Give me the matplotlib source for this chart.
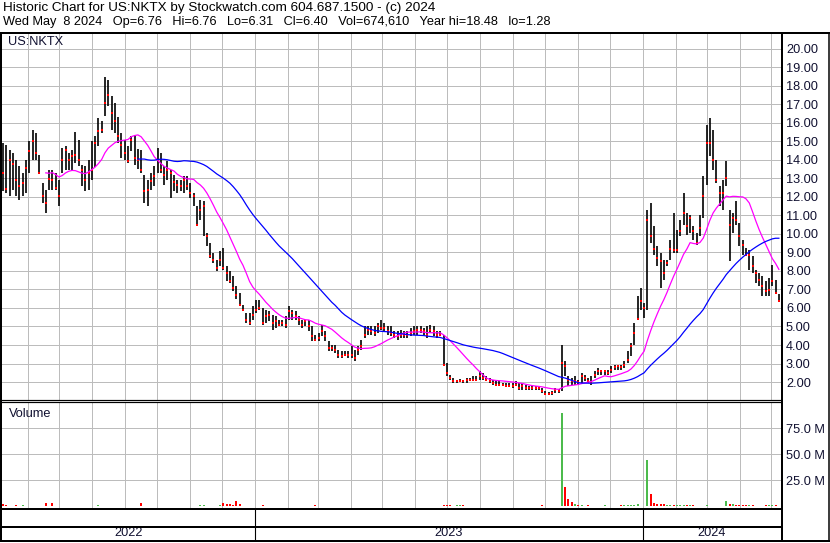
import numpy as np
import pandas as pd
import matplotlib
matplotlib.use("Agg")
import matplotlib.pyplot as plt
from matplotlib.lines import Line2D
from matplotlib.ticker import FuncFormatter, FixedLocator

plt.rcParams['font.family'] = ['Liberation Sans', 'DejaVu Sans']

# ---------------- data ----------------
title_line1 = "Historic Chart for US:NKTX by Stockwatch.com 604.687.1500 - (c) 2024"
title_line2 = "Wed May  8 2024   Op=6.76   Hi=6.76   Lo=6.31   Cl=6.40   Vol=674,610   Year hi=18.48   lo=1.28"
symbol = "US:NKTX"
start_date = "2022-05-09"
end_date = "2024-05-08"

high = [14.91, 14.82, 14.55, 14.37, 14.01, 13.65, 13.29, 14.01, 15.00, 15.63,
        15.45, 14.28, 12.75, 12.39, 13.47, 13.47, 13.29, 12.93, 14.64, 14.73,
        14.37, 14.55, 15.50, 15.09, 13.74, 13.65, 14.01, 15.00, 15.30, 16.26,
        16.08, 18.48, 18.33, 17.43, 17.07, 16.30, 15.45, 15.09, 14.73, 15.27,
        15.36, 14.60, 14.55, 13.20, 12.93, 13.29, 13.65, 14.64, 14.37, 13.65,
        13.92, 13.47, 13.20, 12.93, 12.93, 13.11, 13.11, 12.75, 12.21, 11.49,
        11.85, 11.76, 10.05, 9.51, 8.97, 8.61, 9.06, 9.24, 8.25, 7.98,
        7.71, 7.20, 6.81, 6.18, 5.73, 5.73, 6.09, 6.45, 6.45, 6.00,
        5.91, 5.82, 5.64, 5.55, 5.37, 5.37, 5.55, 6.09, 5.91, 5.82,
        5.55, 5.37, 5.37, 5.37, 5.01, 4.56, 4.65, 5.10, 4.74, 4.20,
        4.02, 4.02, 3.75, 3.66, 3.66, 3.66, 3.93, 3.75, 3.93, 4.29,
        5.01, 5.01, 5.01, 5.01, 5.19, 5.37, 5.19, 5.01, 5.01,
        4.74, 4.74, 4.83, 4.74, 4.74, 4.92, 5.01, 5.01, 5.01, 4.92,
        5.01, 5.10, 5.01, 4.74, 4.74, 4.56, 3.03, 2.40, 2.22, 2.13,
        2.17, 2.13, 2.22, 2.22, 2.31, 2.31, 2.58, 2.49, 2.31, 2.22,
        2.13, 2.04, 2.04, 1.95, 1.95, 1.95, 1.95, 2.04, 1.95, 1.95,
        1.86, 1.77, 1.77, 1.77, 1.81, 1.68, 1.50, 1.45, 1.50, 1.68,
        1.63, 4.02, 3.12, 2.31, 2.22, 2.31, 2.13, 2.49, 2.40, 2.22,
        2.31, 2.58, 2.76, 2.67, 2.67, 2.67, 2.85, 2.94, 2.94, 2.94,
        3.12, 3.66, 4.11, 5.19, 6.63, 7.08, 6.27, 11.31, 11.67, 10.41,
        9.33, 8.97, 8.61, 8.61, 9.69, 11.13, 10.23, 10.77, 12.21, 11.13,
        11.04, 10.41, 10.05, 11.04, 13.11, 15.90, 16.26, 15.63, 14.01, 12.57,
        12.93, 13.92, 11.31, 11.13, 11.76, 10.59, 9.69, 9.24, 9.15, 8.79,
        8.07, 7.89, 7.71, 7.44, 7.62, 8.34, 7.53, 6.76]

low = [12.30, 12.21, 12.03, 12.39, 12.03, 11.85, 12.03, 12.21, 13.29, 14.01,
       14.01, 13.29, 11.67, 11.13, 12.39, 12.39, 12.39, 11.49, 13.29, 13.47,
       13.47, 13.47, 13.83, 13.65, 12.57, 12.30, 12.39, 12.93, 13.60, 14.73,
       15.45, 16.35, 16.89, 15.63, 15.45, 14.90, 14.10, 14.01, 13.83, 14.46,
       13.74, 13.50, 13.29, 11.67, 11.49, 12.39, 12.57, 13.29, 13.29, 12.66,
       12.93, 11.94, 12.30, 12.21, 12.30, 12.21, 12.39, 11.94, 11.49, 10.41,
       10.77, 9.87, 9.33, 8.70, 8.43, 7.98, 8.25, 8.07, 7.44, 7.35,
       6.90, 6.50, 6.09, 5.82, 5.19, 5.10, 5.37, 5.73, 5.91, 5.10,
       5.19, 5.28, 4.83, 4.92, 5.01, 5.01, 4.92, 5.37, 5.37, 5.37,
       5.10, 4.92, 5.01, 4.74, 4.20, 4.20, 4.20, 4.47, 4.20, 3.66,
       3.66, 3.57, 3.30, 3.30, 3.39, 3.30, 3.30, 3.12, 3.48, 3.75,
       4.38, 4.56, 4.56, 4.47, 4.65, 4.83, 4.74, 4.56, 4.47,
       4.38, 4.29, 4.38, 4.38, 4.38, 4.47, 4.56, 4.56, 4.65, 4.56,
       4.38, 4.65, 4.47, 4.38, 4.47, 2.85, 2.31, 2.13, 1.95, 1.95,
       1.99, 1.95, 1.95, 2.04, 2.04, 2.04, 2.13, 2.13, 2.04, 1.95,
       1.86, 1.77, 1.77, 1.77, 1.73, 1.73, 1.68, 1.77, 1.59, 1.59,
       1.59, 1.59, 1.59, 1.59, 1.59, 1.41, 1.28, 1.28, 1.32, 1.41,
       1.41, 1.50, 2.31, 1.77, 1.86, 1.86, 1.86, 1.95, 2.04, 1.95,
       1.86, 2.22, 2.40, 2.40, 2.40, 2.40, 2.49, 2.67, 2.67, 2.67,
       2.76, 3.03, 3.39, 4.02, 5.37, 5.91, 5.46, 5.91, 9.51, 8.88,
       8.25, 7.08, 7.53, 8.25, 8.61, 8.97, 8.97, 9.87, 10.50, 9.96,
       10.05, 9.69, 9.42, 9.87, 10.86, 12.66, 14.19, 13.47, 12.75, 11.49,
       11.31, 12.57, 8.52, 10.05, 10.50, 9.33, 8.88, 8.79, 8.07, 7.89,
       7.35, 7.17, 6.63, 6.63, 6.63, 7.17, 6.81, 6.31]

close = [13.29, 12.44, 14.01, 13.78, 12.93, 12.57, 12.75, 13.56, 14.46, 15.00,
         14.37, 13.29, 12.03, 11.67, 12.98, 12.93, 12.48, 12.03, 14.01, 14.55,
         14.01, 14.19, 14.28, 14.01, 13.47, 12.93, 13.29, 13.47, 14.90, 15.54,
         15.63, 17.07, 17.52, 16.53, 16.08, 15.30, 14.82, 14.37, 13.92, 15.09,
         14.10, 14.00, 13.47, 12.30, 12.39, 12.84, 13.11, 14.01, 13.47, 13.20,
         13.47, 13.29, 12.80, 12.66, 12.57, 12.93, 12.57, 12.21, 12.03, 10.50,
         11.31, 11.49, 9.87, 8.79, 8.61, 8.16, 8.61, 8.16, 7.89, 7.44,
         7.08, 6.70, 6.18, 5.91, 5.37, 5.19, 5.64, 5.91, 6.00, 5.19,
         5.55, 5.64, 5.19, 5.28, 5.10, 5.19, 5.10, 5.82, 5.73, 5.55,
         5.37, 5.10, 5.28, 5.01, 4.47, 4.29, 4.38, 4.74, 4.47, 3.84,
         3.84, 3.75, 3.48, 3.39, 3.48, 3.48, 3.48, 3.30, 3.75, 3.93,
         4.56, 4.83, 4.74, 4.65, 5.01, 4.92, 4.92, 4.74, 4.65,
         4.56, 4.47, 4.56, 4.56, 4.56, 4.65, 4.74, 4.83, 4.83, 4.74,
         4.56, 4.83, 4.74, 4.56, 4.56, 2.94, 2.49, 2.22, 2.04, 2.04,
         2.08, 2.04, 2.09, 2.13, 2.13, 2.13, 2.31, 2.22, 2.13, 2.04,
         1.95, 1.86, 1.86, 1.86, 1.81, 1.81, 1.77, 1.86, 1.68, 1.77,
         1.68, 1.68, 1.68, 1.68, 1.68, 1.50, 1.37, 1.37, 1.41, 1.59,
         1.50, 3.03, 2.85, 2.13, 2.04, 2.04, 1.99, 2.31, 2.22, 2.04,
         1.95, 2.40, 2.58, 2.58, 2.58, 2.49, 2.67, 2.80, 2.85, 2.80,
         2.94, 3.21, 3.93, 4.65, 5.40, 6.40, 6.00, 10.77, 9.87, 9.20,
         8.70, 8.52, 7.89, 8.43, 9.19, 9.15, 9.15, 10.14, 11.13, 10.41,
         10.86, 10.14, 9.51, 10.32, 12.03, 14.91, 14.91, 14.01, 12.93, 12.21,
         12.21, 13.02, 10.50, 10.86, 10.77, 9.87, 9.42, 8.88, 8.88, 8.25,
         7.89, 7.53, 7.17, 6.90, 6.99, 7.44, 6.81, 6.40]

# volume in millions of shares
volume_m = [2.0, 1.0, 0.5, 0.5, 1.0, 0.5, 1.2, 0.5, 0.5, 0.5,
            0.5, 0.5, 0.5, 3.0, 0.5, 3.0, 0.5, 0.5, 0.5, 0.5,
            0.5, 0.5, 0.5, 0.5, 0.5, 0.5, 0.5, 0.5, 0.5, 1.2,
            0.5, 0.8, 0.8, 0.5, 0.5, 0.5, 0.5, 0.5, 0.5, 0.5,
            0.5, 0.5, 3.0, 0.5, 0.5, 0.5, 0.5, 0.5, 0.5, 0.5,
            0.5, 0.5, 0.5, 0.5, 0.5, 0.5, 0.5, 0.8, 0.5, 0.8,
            1.5, 1.5, 0.5, 0.5, 0.5, 0.5, 1.5, 3.0, 2.0, 2.0,
            1.5, 5.0, 2.0, 0.8, 0.5, 0.5, 0.5, 0.5, 0.5, 1.5,
            0.5, 0.5, 0.5, 0.5, 0.5, 0.5, 0.5, 0.5, 0.5, 0.5,
            0.5, 0.5, 0.5, 0.5, 0.5, 1.5, 0.5, 0.5, 0.5, 0.5,
            0.4, 0.4, 0.4, 0.4, 0.4, 0.4, 0.4, 0.4, 0.4, 0.4,
            0.4, 0.4, 0.4, 0.4, 0.4, 0.4, 0.4, 0.4, 0.4, 0.4,
            0.4, 0.4, 0.4, 0.4, 0.4, 0.4, 0.4, 0.4, 0.4, 0.4,
            0.4, 0.4, 0.4, 0.4, 1.5, 1.5, 1.0, 0.5, 1.0, 1.0,
            1.0, 0.4, 0.4, 0.4, 0.4, 0.4, 0.4, 0.4, 0.4, 0.4,
            0.4, 0.4, 0.4, 0.4, 0.4, 0.4, 0.4, 0.4, 0.4, 0.4,
            0.4, 0.4, 0.4, 0.4, 1.5, 0.4, 0.4, 0.4, 0.4, 0.4,
            90.0, 19.0, 7.0, 4.0, 2.0, 1.2, 1.0, 0.5, 1.0, 0.5,
            0.4, 0.4, 0.4, 1.0, 0.4, 0.4, 0.4, 0.4, 1.0, 1.0,
            1.0, 1.0, 1.0, 2.5, 0.8, 0.8, 45.0, 12.0, 3.0, 2.5,
            2.5, 2.0, 1.5, 1.0, 1.0, 1.0, 1.0, 1.0, 1.0, 1.0,
            1.0, 0.5, 0.5, 0.5, 1.0, 0.6, 0.6, 0.6, 0.6, 0.6,
            5.0, 2.0, 2.0, 1.5, 1.5, 1.5, 1.5, 1.5, 1.5, 0.6,
            0.6, 0.6, 1.0, 1.0, 1.0, 1.0, 0.7]

price_ticks = list(range(2, 21))
volume_ticks = [25, 50, 75]
years = ["2022", "2023", "2024"]
year_bounds = ["2022-05-08", "2023-01-01", "2024-01-01", "2024-05-10"]
fast_window = 14
slow_window = 42

# ---------------- figure ----------------
W, H, DPI = 830, 543, 100
fig = plt.figure(figsize=(W / DPI, H / DPI), dpi=DPI, facecolor="white")

def px_axes(x0, y0, x1, y1):
    return fig.add_axes([x0 / W, 1 - y1 / H, (x1 - x0) / W, (y1 - y0) / H])

def fig_line(xs, ys, lw_px, color="black"):
    fig.add_artist(Line2D([x / W for x in xs], [1 - y / H for y in ys],
                          lw=lw_px * 0.72, color=color, solid_capstyle="butt"))

dates = pd.date_range(start_date, end_date, periods=len(close))
xmin, xmax = pd.Timestamp(year_bounds[0]), pd.Timestamp(year_bounds[-1])
month_starts = pd.date_range(xmin, xmax, freq="MS")
GRID_C = "#bcbcbc"
GRID_LW = 0.72
FS = 9.2

def style_panel(ax, ylo, yhi, ticks, fmt):
    ax.set_xlim(xmin, xmax)
    ax.set_ylim(ylo, yhi)
    ax.set_xticks([])
    ax.yaxis.set_major_locator(FixedLocator(ticks))
    ax.yaxis.tick_right()
    ax.tick_params(axis="y", length=0, pad=3.6, labelsize=FS, labelcolor="#101030")
    ax.yaxis.set_major_formatter(FuncFormatter(fmt))
    for s in ax.spines.values():
        s.set_visible(False)
    for t in ticks:
        ax.plot([xmin, xmax], [t, t], color=GRID_C, lw=GRID_LW, zorder=2,
                solid_capstyle="butt", antialiased=False)
    for m in month_starts:
        ax.plot([m, m], [ylo, yhi], color=GRID_C, lw=GRID_LW, zorder=2,
                solid_capstyle="butt", antialiased=False)
    ax.set_xlim(xmin, xmax)
    ax.set_ylim(ylo, yhi)

# price panel
axp = px_axes(2, 33, 781, 400)
style_panel(axp, 1.03, 20.85, price_ticks, lambda v, p: f"{v:.2f}")
axp.vlines(dates, low, high, color="black", lw=1.2, zorder=3)
axp.plot(dates, close, "s", color="red", ms=1.6, mew=0, zorder=4)
cs = pd.Series(close)
axp.plot(dates, cs.rolling(fast_window).mean(), color="#ff00ff", lw=0.9, zorder=5)
axp.plot(dates, cs.rolling(slow_window).mean(), color="#0000ff", lw=0.9, zorder=5)
axp.text(6 / 779, 1 - 9 / 367, symbol, transform=axp.transAxes, fontsize=FS,
         va="center", ha="left", color="#101030")

# volume panel
axv = px_axes(2, 403, 781, 508)
style_panel(axv, -1.6, 99.3, volume_ticks, lambda v, p: f"{v:.1f} M")
prev = [close[0] + 1] + close[:-1]
vcolors = ["#4cbb4c" if c >= p else "#ff0000" for c, p in zip(close, prev)]
axv.bar(dates, volume_m, width=1.9, bottom=0, color=vcolors, lw=0, zorder=3)
axv.text(7 / 779, 1 - 11 / 105, "Volume", transform=axv.transAxes, fontsize=FS,
         va="center", ha="left", color="#101030")

# year strip
axy = px_axes(2, 509, 781, 541)
axy.set_xlim(xmin, xmax)
axy.set_ylim(0, 1)
axy.axis("off")
for b in year_bounds[1:-1]:
    axy.axvline(pd.Timestamp(b), color="black", lw=0.8)
for i, yr in enumerate(years):
    a, b = pd.Timestamp(year_bounds[i]), pd.Timestamp(year_bounds[i + 1])
    axy.text(a + (b - a) / 2, 0.25, yr, ha="center", va="center", fontsize=FS,
             color="#101030")

# frame lines
fig_line([0, 830], [32.5, 32.5], 2)
fig_line([1, 1], [32, 542], 2)
fig_line([781.5, 781.5], [32, 542], 2)
fig_line([829, 829], [32, 542], 1.5)
fig_line([0, 781], [399.5, 399.5], 1.2)
fig_line([0, 781], [401.8, 401.8], 1.2)
fig_line([0, 781], [509.3, 509.3], 2)
fig_line([0, 781], [526.8, 526.8], 2)
fig_line([0, 830], [541.2, 541.2], 2)

# header
fig.text(3 / W, 1 - 8 / H, title_line1, fontsize=9.7, va="center", ha="left")
fig.text(3 / W, 1 - 22 / H, title_line2, fontsize=FS, va="center", ha="left")

fig.savefig("out.png", dpi=DPI, facecolor="white")
